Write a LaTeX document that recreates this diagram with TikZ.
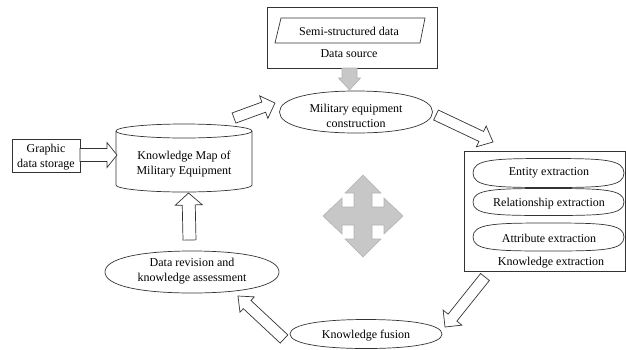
\documentclass[tikz,border=0pt]{standalone}
\usepackage{fontspec}
\setmainfont{Liberation Serif}
\usetikzlibrary{calc}
\tikzset{
  ln/.style={draw=black!80, line width=0.7pt},
  txt/.style={font=\fontsize{12}{15}\selectfont, align=center, inner sep=0pt},
  blk/.style={ln, fill=white, line join=miter},
  gblk/.style={draw=black!30, fill=black!22, line width=0.6pt, line join=miter},
}
% #1 style, #2 tail, #3 tip, #4 shaft half width, #5 head half width, #6 head length
\newcommand\blockarrow[6][blk]{%
  \coordinate (hb) at ($(#3)!#6!(#2)$);
  \draw[#1] ($(#2)!#4!90:(#3)$) -- ($(hb)!#4!90:(#3)$) -- ($(hb)!#5!90:(#3)$) -- (#3)
    -- ($(hb)!#5!-90:(#3)$) -- ($(hb)!#4!-90:(#3)$) -- ($(#2)!#4!-90:(#3)$) -- cycle;
}
% rounded oval: #1 centre, #2 rx, #3 ry, #4 end bluntness, #5 top flatness
\newcommand\myoval[5]{%
  \draw[ln, shift={(#1)}] (-#2,0)
    .. controls (-#2,-#4*#3) and (-#5*#2,-#3) .. (0,-#3)
    .. controls (#5*#2,-#3) and (#2,-#4*#3) .. (#2,0)
    .. controls (#2,#4*#3) and (#5*#2,#3) .. (0,#3)
    .. controls (-#5*#2,#3) and (-#2,#4*#3) .. (-#2,0) -- cycle;
}
\begin{document}
\begin{tikzpicture}[x=1pt,y=-1pt]
\useasboundingbox (0,0) rectangle (626,349);

% Data source
\draw[ln] (267,7) rectangle (437,68);
\draw[ln] (281,18) -- (425,18) -- (420,43) -- (275,43) -- cycle;
\node[txt] (semi) at (349,31) {Semi-structured data};
\node[txt] (dsrc) at (349,54) {Data source};

% Military equipment construction
\coordinate (milc) at (356,112);
\myoval{milc}{76.5}{21}{0.65}{0.6}
\node[txt] (miltxt) at (356,116) {Military equipment\\construction};

% Knowledge extraction
\draw[ln] (464,151) rectangle (625,271);
\coordinate (entc) at (548.5,173);
\coordinate (relc) at (548.5,202);
\coordinate (attc) at (548.5,237);
\myoval{entc}{75.5}{14.5}{0.95}{0.72}
\myoval{relc}{75.5}{13.5}{0.95}{0.72}
\myoval{attc}{75.5}{14}{0.95}{0.72}
\node[txt] (enttxt) at (549,173) {Entity extraction};
\node[txt] (reltxt) at (549,204) {Relationship extraction};
\node[txt] (atttxt) at (549,238) {Attribute extraction};
\node[txt] (kext) at (551,263) {Knowledge extraction};

% Knowledge fusion
\coordinate (fusc) at (366,334);
\myoval{fusc}{76}{14.5}{0.65}{0.6}
\node[txt] (fustxt) at (366,336) {Knowledge fusion};

% Data revision
\coordinate (revc) at (192,272);
\myoval{revc}{87}{21}{0.65}{0.6}
\node[txt] (revtxt) at (192,271) {Data revision and\\knowledge assessment};

% Cylinder
\draw[ln] (116,131) -- (116,185) arc[start angle=180, end angle=360, x radius=68pt, y radius=7pt] -- (252,131);
\draw[ln] (184,131) ellipse [x radius=68pt, y radius=7pt];
\node[txt] (kmap) at (184,164) {Knowledge Map of\\Military Equipment};

% Graphic data storage
\draw[ln] (12,139) rectangle (80,172);
\node[txt] (gds) at (46,157) {Graphic\\data storage};

% arrow end points
\coordinate (g1t) at (349.5,68);  \coordinate (g1p) at (349.5,90);
\coordinate (a1t) at (234,118);   \coordinate (a1p) at (275,103);
\coordinate (a2t) at (436,115);   \coordinate (a2p) at (493,142);
\coordinate (a3t) at (485,277);   \coordinate (a3p) at (445,327);
\coordinate (a4t) at (284,339);   \coordinate (a4p) at (238,296);
\coordinate (a5t) at (189.5,240); \coordinate (a5p) at (188.5,193);
\coordinate (a6t) at (80,155);    \coordinate (a6p) at (117,155);

\blockarrow[gblk]{g1t}{g1p}{7.5pt}{11pt}{12pt}
\blockarrow{a1t}{a1p}{5.4pt}{12pt}{12pt}
\blockarrow{a2t}{a2p}{5.5pt}{11.5pt}{13pt}
\blockarrow{a3t}{a3p}{5.6pt}{12pt}{12pt}
\blockarrow{a4t}{a4p}{5.6pt}{10.5pt}{12.5pt}
\blockarrow{a5t}{a5p}{6.5pt}{13.5pt}{12pt}
\blockarrow{a6t}{a6p}{6.5pt}{12.5pt}{10pt}

% four-way arrow
\draw[gblk, shift={(363,216)}]
  (0,-41) -- (18,-23) -- (9,-23) -- (9,-9) -- (21,-9) -- (21,-18) -- (40,0)
  -- (21,18) -- (21,9) -- (9,9) -- (9,23) -- (18,23) -- (0,41)
  -- (-18,23) -- (-9,23) -- (-9,9) -- (-21,9) -- (-21,18) -- (-40,0)
  -- (-21,-18) -- (-21,-9) -- (-9,-9) -- (-9,-23) -- (-18,-23) -- cycle;
\end{tikzpicture}
\end{document}
